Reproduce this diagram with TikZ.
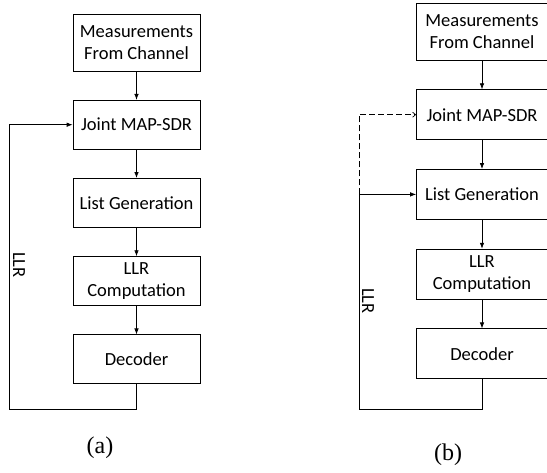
\documentclass[tikz,border=0pt]{standalone}
\usepackage{fontspec}
\setmainfont{Carlito}
\newfontfamily\capfont{Liberation Serif}
\usetikzlibrary{positioning,arrows.meta}

\tikzset{
	flowpicture/.style = {
		x = 1pt,
		y = -1pt,
		node distance = 28.5pt,
		arrow/.style = {
			draw,
			-{Latex[length=6pt,width=4.5pt]},
			line width = 0.7pt
		},
		feedback/.style = {
			draw,
			line width = 0.7pt
		}
	},
	flowbox/.style = {
		rectangle,
		draw = black,
		line width = 0.7pt,
		minimum width = 127pt,
		minimum height = 49pt,
		inner sep = 1pt,
		align = center,
		font = \fontsize{18.5}{22}\selectfont
	},
	topbox/.style = {
		minimum height = 57pt
	},
	sidelabel/.style = {
		rotate = -90,
		inner sep = 0pt,
		font = \fontsize{18.5}{22}\selectfont
	},
	caption/.style = {
		inner sep = 0pt,
		font = \capfont\fontsize{24}{26}\selectfont
	}
}

\begin{document}
\begin{tikzpicture}[flowpicture]
	\useasboundingbox (0,0) rectangle (547,472);

	% (a)
	\node[flowbox, topbox] (a-meas) at (136.5,42.5) {Measurements\\From Channel};
	\node[flowbox, below = of a-meas] (a-sdr) {Joint MAP-SDR};
	\node[flowbox, below = of a-sdr] (a-list) {List Generation};
	\node[flowbox, below = of a-list] (a-llr) {LLR\\Computation};
	\node[flowbox, below = of a-llr] (a-dec) {Decoder};
	\coordinate (a-corner) at (9,409);
	\node[sidelabel] (a-fbl) at (19,265) {LLR};
	\node[caption] (a-cap) at (100,448) {(a)};

	\begin{scope}[every path/.style = arrow]
		\path (a-meas) -- (a-sdr);
		\path (a-sdr) -- (a-list);
		\path (a-list) -- (a-llr);
		\path (a-llr) -- (a-dec);
	\end{scope}
	\path[feedback] (a-dec.south) |- (a-corner);
	\path[arrow] (a-corner) |- (a-sdr.west);

	% (b)
	\begin{scope}[node distance = 29pt, flowbox/.append style = {minimum width = 131pt, minimum height = 50pt}]
		\node[flowbox, topbox] (b-meas) at (482,31.5) {Measurements\\From Channel};
		\node[flowbox, below = of b-meas] (b-sdr) {Joint MAP-SDR};
		\node[flowbox, below = of b-sdr] (b-list) {List Generation};
		\node[flowbox, below = of b-list] (b-llr) {LLR\\Computation};
		\node[flowbox, below = of b-llr] (b-dec) {Decoder};
	\end{scope}
	\coordinate (b-corner) at (359,409);
	\coordinate (b-split) at (b-corner |- b-list.west);
	\node[sidelabel] (b-fbl) at (368,301) {LLR};
	\node[caption] (b-cap) at (448,455) {(b)};

	\begin{scope}[every path/.style = arrow]
		\path (b-meas) -- (b-sdr);
		\path (b-sdr) -- (b-list);
		\path (b-list) -- (b-llr);
		\path (b-llr) -- (b-dec);
	\end{scope}
	\path[feedback] (b-dec.south) |- (b-corner) -- (b-split);
	\path[arrow] (b-split) -- (b-list.west);
	\path[arrow, dash pattern = on 6pt off 3pt, -{Straight Barb[length=3pt,width=5pt]}] (b-split) |- (b-sdr.west);
\end{tikzpicture}
\end{document}
